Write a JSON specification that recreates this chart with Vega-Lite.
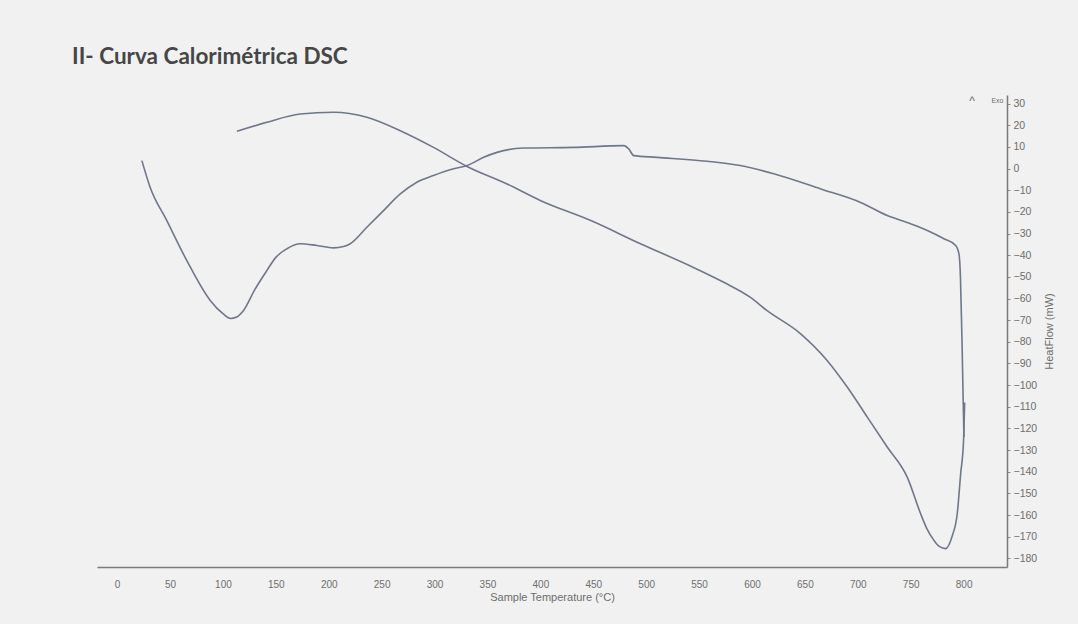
{
  "$schema": "https://vega.github.io/schema/vega-lite/v6.json",
  "width": 910,
  "height": 472,
  "autosize": {"type": "none"},
  "padding": {"left": 97, "top": 95, "right": 71, "bottom": 57},
  "background": "#f1f1f1",
  "title": {
    "text": "II- Curva Calorimétrica DSC",
    "anchor": "start",
    "frame": "group",
    "dx": -25,
    "offset": 9,
    "baseline": "alphabetic",
    "font": "Lato",
    "fontSize": 22.5,
    "fontWeight": "bold",
    "color": "#464646"
  },
  "config": {"view": {"stroke": null}},
  "encoding": {
    "x": {
      "field": "T",
      "type": "quantitative",
      "scale": {"domain": [-19, 841], "nice": false, "zero": false},
      "axis": {
        "values": [0, 50, 100, 150, 200, 250, 300, 350, 400, 450, 500, 550, 600, 650, 700, 750, 800],
        "title": "Sample Temperature (°C)",
        "grid": false,
        "ticks": false,
        "tickSize": 0,
        "labelOverlap": false,
        "domainColor": "#7a7a7a",
        "domainWidth": 1.5,
        "labelFont": "Liberation Sans",
        "labelFontSize": 10,
        "labelColor": "#6e6e6e",
        "labelPadding": 12,
        "titleFont": "Liberation Sans",
        "titleFontSize": 11,
        "titleFontWeight": "normal",
        "titleColor": "#6e6e6e",
        "titlePadding": 2
      }
    },
    "y": {
      "field": "HF",
      "type": "quantitative",
      "scale": {"domain": [-184, 34], "nice": false, "zero": false},
      "axis": {
        "orient": "right",
        "values": [30, 20, 10, 0, -10, -20, -30, -40, -50, -60, -70, -80, -90, -100, -110, -120, -130, -140, -150, -160, -170, -180],
        "title": "HeatFlow (mW)",
        "titleAngle": 270,
        "grid": false,
        "tickSize": 3,
        "tickColor": "#8a8a8a",
        "labelOverlap": false,
        "domainColor": "#7a7a7a",
        "domainWidth": 1.5,
        "labelFont": "Liberation Sans",
        "labelFontSize": 10.5,
        "labelColor": "#6e6e6e",
        "labelPadding": 3,
        "titleFont": "Liberation Sans",
        "titleFontSize": 11,
        "titleFontWeight": "normal",
        "titleColor": "#6e6e6e",
        "titlePadding": 18
      }
    }
  },
  "layer": [
    {
      "data": {
        "values": [
          {"series": "heating", "i": 1, "T": 23.4, "HF": 3.7},
          {"series": "heating", "i": 2, "T": 31.2, "HF": -8.6},
          {"series": "heating", "i": 3, "T": 47, "HF": -24},
          {"series": "heating", "i": 4, "T": 65.9, "HF": -42.5},
          {"series": "heating", "i": 5, "T": 88, "HF": -60.9},
          {"series": "heating", "i": 6, "T": 100, "HF": -67},
          {"series": "heating", "i": 7, "T": 106.9, "HF": -69.2},
          {"series": "heating", "i": 8, "T": 113, "HF": -68.5},
          {"series": "heating", "i": 9, "T": 119.5, "HF": -65.5},
          {"series": "heating", "i": 10, "T": 130, "HF": -56},
          {"series": "heating", "i": 11, "T": 141.5, "HF": -47.1},
          {"series": "heating", "i": 12, "T": 150, "HF": -41},
          {"series": "heating", "i": 13, "T": 160.2, "HF": -37.1},
          {"series": "heating", "i": 14, "T": 173, "HF": -34.7},
          {"series": "heating", "i": 15, "T": 188.8, "HF": -35.5},
          {"series": "heating", "i": 16, "T": 204.5, "HF": -36.6},
          {"series": "heating", "i": 17, "T": 214, "HF": -36},
          {"series": "heating", "i": 18, "T": 220.3, "HF": -34.7},
          {"series": "heating", "i": 19, "T": 236, "HF": -27.1},
          {"series": "heating", "i": 20, "T": 251.8, "HF": -19.4},
          {"series": "heating", "i": 21, "T": 267.6, "HF": -11.7},
          {"series": "heating", "i": 22, "T": 283.3, "HF": -6.3},
          {"series": "heating", "i": 23, "T": 299, "HF": -3.2},
          {"series": "heating", "i": 24, "T": 318, "HF": -0.1},
          {"series": "heating", "i": 25, "T": 330.7, "HF": 1.4},
          {"series": "heating", "i": 26, "T": 346.4, "HF": 5.2},
          {"series": "heating", "i": 27, "T": 359, "HF": 7.5},
          {"series": "heating", "i": 28, "T": 384, "HF": 9.5},
          {"series": "heating", "i": 29, "T": 431.4, "HF": 9.8},
          {"series": "heating", "i": 30, "T": 478.8, "HF": 10.6},
          {"series": "heating", "i": 31, "T": 483.5, "HF": 9.1},
          {"series": "heating", "i": 32, "T": 488.3, "HF": 6.0},
          {"series": "heating", "i": 33, "T": 510.3, "HF": 5.2},
          {"series": "heating", "i": 34, "T": 557.6, "HF": 3.4},
          {"series": "heating", "i": 35, "T": 589, "HF": 1.4},
          {"series": "heating", "i": 36, "T": 620.6, "HF": -2.4},
          {"series": "heating", "i": 37, "T": 665, "HF": -9.4},
          {"series": "heating", "i": 38, "T": 702.6, "HF": -15.6},
          {"series": "heating", "i": 39, "T": 727.8, "HF": -21.7},
          {"series": "heating", "i": 40, "T": 749.9, "HF": -25.5},
          {"series": "heating", "i": 41, "T": 765.7, "HF": -28.6},
          {"series": "heating", "i": 42, "T": 781.4, "HF": -32.4},
          {"series": "heating", "i": 43, "T": 792.5, "HF": -35.5},
          {"series": "heating", "i": 44, "T": 795.6, "HF": -39.4},
          {"series": "heating", "i": 45, "T": 797, "HF": -50},
          {"series": "heating", "i": 46, "T": 798.5, "HF": -80},
          {"series": "heating", "i": 47, "T": 799.5, "HF": -105},
          {"series": "heating", "i": 48, "T": 800.3, "HF": -124},
          {"series": "cooling", "i": 1, "T": 801, "HF": -108},
          {"series": "cooling", "i": 2, "T": 800, "HF": -125},
          {"series": "cooling", "i": 3, "T": 797.2, "HF": -141},
          {"series": "cooling", "i": 4, "T": 794, "HF": -159.3},
          {"series": "cooling", "i": 5, "T": 789, "HF": -170},
          {"series": "cooling", "i": 6, "T": 783, "HF": -175.5},
          {"series": "cooling", "i": 7, "T": 777, "HF": -174.5},
          {"series": "cooling", "i": 8, "T": 772, "HF": -171.7},
          {"series": "cooling", "i": 9, "T": 765, "HF": -166},
          {"series": "cooling", "i": 10, "T": 759.3, "HF": -159.3},
          {"series": "cooling", "i": 11, "T": 746.7, "HF": -142.5},
          {"series": "cooling", "i": 12, "T": 727.8, "HF": -128.6},
          {"series": "cooling", "i": 13, "T": 709, "HF": -114.8},
          {"series": "cooling", "i": 14, "T": 690, "HF": -100.9},
          {"series": "cooling", "i": 15, "T": 671, "HF": -88.6},
          {"series": "cooling", "i": 16, "T": 646, "HF": -76.3},
          {"series": "cooling", "i": 17, "T": 614, "HF": -65.5},
          {"series": "cooling", "i": 18, "T": 598.6, "HF": -59.5},
          {"series": "cooling", "i": 19, "T": 573.3, "HF": -52.5},
          {"series": "cooling", "i": 20, "T": 541.8, "HF": -45},
          {"series": "cooling", "i": 21, "T": 494.6, "HF": -34.7},
          {"series": "cooling", "i": 22, "T": 447.7, "HF": -24},
          {"series": "cooling", "i": 23, "T": 400.4, "HF": -14.8},
          {"series": "cooling", "i": 24, "T": 368.5, "HF": -7.1},
          {"series": "cooling", "i": 25, "T": 330.7, "HF": 1.0},
          {"series": "cooling", "i": 26, "T": 299, "HF": 9.8},
          {"series": "cooling", "i": 27, "T": 267.6, "HF": 17.5},
          {"series": "cooling", "i": 28, "T": 236, "HF": 23.7},
          {"series": "cooling", "i": 29, "T": 204.5, "HF": 26},
          {"series": "cooling", "i": 30, "T": 173, "HF": 25.2},
          {"series": "cooling", "i": 31, "T": 141.5, "HF": 21.4},
          {"series": "cooling", "i": 32, "T": 113.2, "HF": 17.2}
        ]
      },
      "mark": {"type": "line", "color": "#6f7789", "strokeWidth": 1.6, "interpolate": "monotone"},
      "encoding": {
        "detail": {"field": "series", "type": "nominal"},
        "order": {"field": "i", "type": "quantitative"}
      }
    },
    {
      "data": {
        "values": [
          {"T": 808, "HF": 31.2, "label": "^", "size": 12},
          {"T": 832, "HF": 31.4, "label": "Exo", "size": 7}
        ]
      },
      "mark": {"type": "text", "color": "#6e6e6e", "font": "Liberation Sans"},
      "encoding": {
        "text": {"field": "label", "type": "nominal"},
        "size": {"field": "size", "type": "quantitative", "scale": null, "legend": null}
      }
    }
  ]
}
